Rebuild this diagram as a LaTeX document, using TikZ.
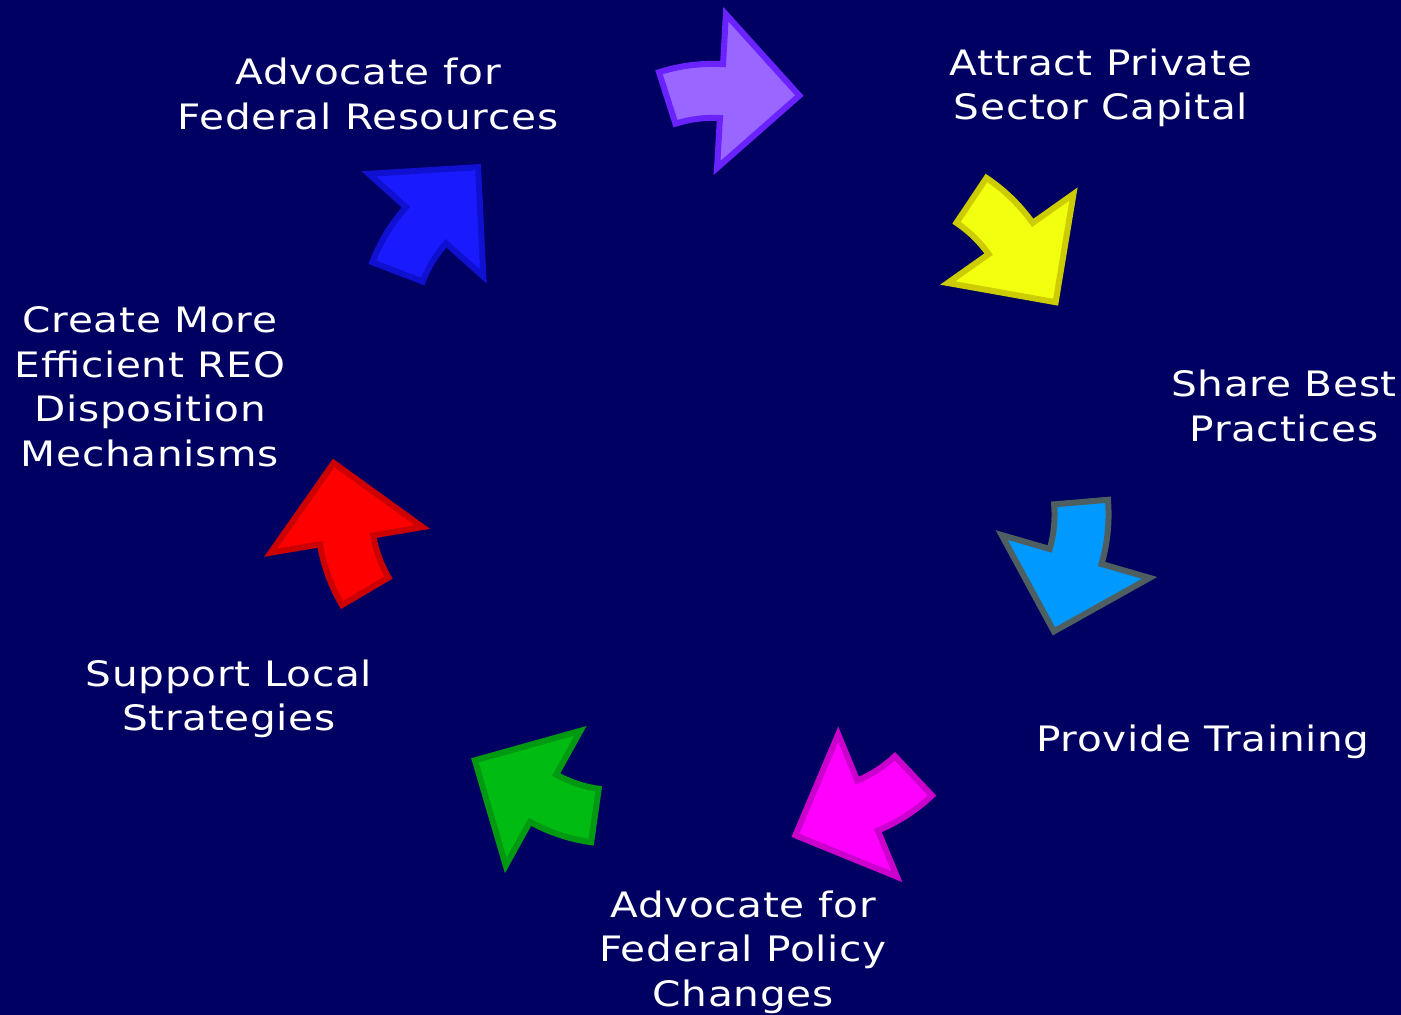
\documentclass[tikz,border=0pt]{standalone}
\usepackage{fontspec}
\setmainfont{DejaVu Sans}[FakeStretch=1.16,LetterSpace=2]
\usetikzlibrary{positioning}

\definecolor{navy}{HTML}{000062}
\definecolor{violetfill}{HTML}{9966FF}
\definecolor{violetline}{HTML}{6A22FF}
\definecolor{yellowfill}{HTML}{F2FF0F}
\definecolor{yellowline}{HTML}{CCCC00}
\definecolor{skyfill}{HTML}{0099FF}
\definecolor{skyline}{HTML}{4D5F60}
\definecolor{pinkfill}{HTML}{FF00FF}
\definecolor{pinkline}{HTML}{CC00CC}
\definecolor{greenfill}{HTML}{00BB11}
\definecolor{greenline}{HTML}{009911}
\definecolor{redfill}{HTML}{FF0000}
\definecolor{redline}{HTML}{CC0000}
\definecolor{bluefill}{HTML}{1A1AFF}
\definecolor{blueline}{HTML}{1010D0}

\tikzset{
  cyclearrow/.style={line width=6pt,line join=miter},
  cycletext/.style={text=white,align=center,inner sep=0pt,
    font=\fontsize{35}{44.5}\selectfont}
}

% one bent block arrow, head base centred on the ring at angle #1
\newcommand\cyclearrow[3]{%
  \filldraw[cyclearrow,fill=#2,draw=#3,shift={(#1:374)},rotate=#1-92]
    (0,-150) ++(111:177) arc[start angle=111,end angle=90,radius=177pt]
    -- (0,77) -- (78,0) -- (0,-77) -- (0,-27)
    arc[start angle=90,end angle=111,radius=123pt] -- cycle;}

\begin{document}
\begin{tikzpicture}[x=1pt,y=1pt]
\fill[navy] (0,0) rectangle (1401,1015);

% ring of arrows, clockwise
\begin{scope}[shift={(713,550)}]
\foreach \fillc/\drawc [count=\k from 0] in
  {violetfill/violetline,yellowfill/yellowline,skyfill/skyline,
   pinkfill/pinkline,greenfill/greenline,redfill/redline,bluefill/blueline}
{
  \pgfmathsetmacro\ang{88.7-51.43*\k}
  \cyclearrow{\ang}{\fillc}{\drawc}
}
\end{scope}

% step texts
\node[cycletext] (fedres) at (368,921) {Advocate for\\Federal Resources};
\node[cycletext] (privcap) at (1101,927) {Attract Private\\Sector Capital};
\node[cycletext] (bestprac) at (1284,609) {Share Best\\Practices};
\node[cycletext] (training) at (1203,273) {Provide Training};
\node[cycletext] (policy) at (743,63) {Advocate for\\Federal Policy\\Changes};
\node[cycletext] (localstrat) at (229,316) {Support Local\\Strategies};
\node[cycletext] (reo) at (150,628) {Create More\\Efficient REO\\Disposition\\Mechanisms};
\end{tikzpicture}
\end{document}
